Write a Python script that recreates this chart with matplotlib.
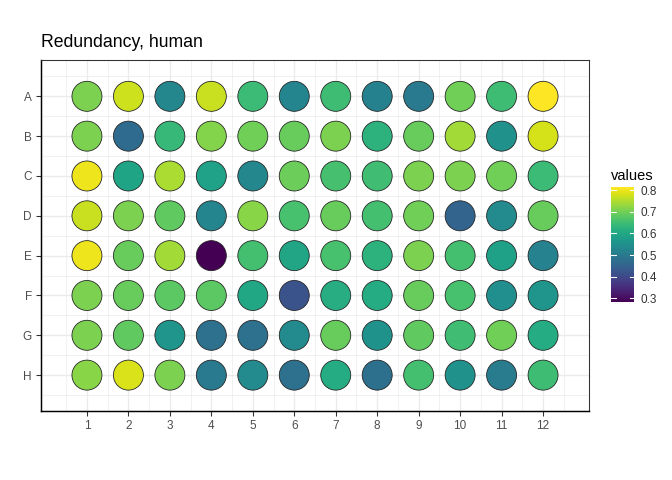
import numpy as np
import matplotlib
matplotlib.use('Agg')
import matplotlib.pyplot as plt

plt.rcParams['font.family'] = ['Liberation Sans', 'DejaVu Sans']

rows = ['A', 'B', 'C', 'D', 'E', 'F', 'G', 'H']
cols = list(range(1, 13))

# redundancy per well
row_A = [0.71, 0.773, 0.53, 0.77, 0.646, 0.525, 0.65, 0.515, 0.50, 0.70, 0.65, 0.814]
row_B = [0.71, 0.467, 0.64, 0.715, 0.70, 0.69, 0.71, 0.625, 0.69, 0.74, 0.55, 0.78]
row_C = [0.80, 0.594, 0.747, 0.59, 0.53, 0.695, 0.657, 0.652, 0.71, 0.71, 0.70, 0.645]
row_D = [0.77, 0.71, 0.685, 0.525, 0.72, 0.66, 0.69, 0.655, 0.70, 0.452, 0.535, 0.69]
row_E = [0.80, 0.69, 0.74, 0.284, 0.655, 0.595, 0.66, 0.625, 0.71, 0.655, 0.585, 0.52]
row_F = [0.71, 0.69, 0.68, 0.68, 0.60, 0.42, 0.615, 0.61, 0.69, 0.66, 0.545, 0.56]
row_G = [0.71, 0.685, 0.56, 0.48, 0.48, 0.535, 0.69, 0.555, 0.685, 0.652, 0.70, 0.61]
row_H = [0.72, 0.785, 0.71, 0.50, 0.535, 0.48, 0.61, 0.478, 0.655, 0.55, 0.505, 0.65]

values = np.array([row_A, row_B, row_C, row_D, row_E, row_F, row_G, row_H])

xx, yy = np.meshgrid(cols, np.arange(1, len(rows) + 1))

fig = plt.figure(figsize=(7, 5), dpi=96)
ax = fig.add_axes([0.0615, 0.1438, 0.876 - 0.0615, 0.874 - 0.1438])

# grid like theme_bw
for v in np.arange(0.5, 13, 0.5):
    ax.axvline(v, color='#ebebeb', lw=1.0 if v % 1 == 0 else 0.5, zorder=0)
for v in np.arange(0.5, 9, 0.5):
    ax.axhline(v, color='#ebebeb', lw=1.0 if v % 1 == 0 else 0.5, zorder=0)

sc = ax.scatter(xx.ravel(), yy.ravel(), c=values.ravel(), cmap='viridis',
                s=506, edgecolors='#222222', linewidths=0.6, zorder=3)

ax.set_xlim(-0.1, 13.1)
ax.set_ylim(8.9, 0.1)
ax.set_xticks(cols)
ax.set_yticks(range(1, 9))
ax.set_yticklabels(rows)
ax.tick_params(colors='#333333', labelcolor='#4d4d4d', labelsize=8.8, length=3.5, width=0.8)
for side in ['top', 'right']:
    ax.spines[side].set_color('#333333')
    ax.spines[side].set_linewidth(0.8)
for side in ['left', 'bottom']:
    ax.spines[side].set_color('black')
    ax.spines[side].set_linewidth(1.1)

fig.text(0.0615, 1 - 46.7 / 480, 'Redundancy, human', fontsize=13.2, ha='left', va='baseline')

cax = fig.add_axes([611 / 672, 1 - 301.7 / 480, 23.3 / 672, 114.4 / 480])
cb = fig.colorbar(sc, cax=cax)
cb.outline.set_visible(False)
ticks = [0.3, 0.4, 0.5, 0.6, 0.7, 0.8]
cb.set_ticks(ticks)
cb.set_ticklabels(['0.3', '0.4', '0.5', '0.6', '0.7', '0.8'])
cax.tick_params(length=0, labelsize=8.8, labelcolor='#333333', pad=5)
for t in ticks:
    cax.axhline(t, xmin=0, xmax=0.2, color='white', lw=0.8)
    cax.axhline(t, xmin=0.8, xmax=1, color='white', lw=0.8)
fig.text(611 / 672, 1 - 180.5 / 480, 'values', fontsize=11, ha='left', va='baseline')

fig.savefig('out.png', dpi=96)
